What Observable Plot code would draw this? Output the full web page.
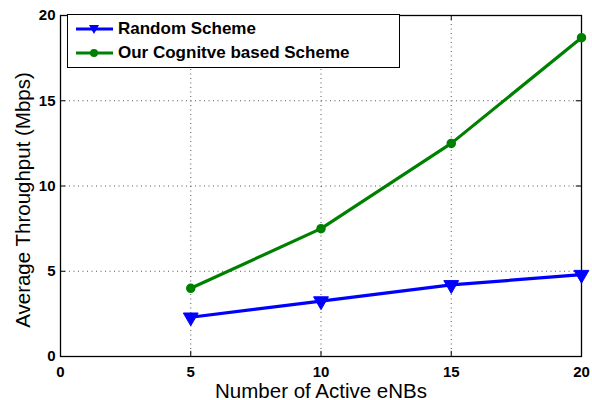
<!DOCTYPE html>
<html>
<head>
<meta charset="utf-8">
<script src="https://cdn.jsdelivr.net/npm/d3@7"></script>
<script src="https://cdn.jsdelivr.net/npm/@observablehq/plot@0.6"></script>
<style>
  body { margin: 0; background: #fff; }
  #wrap { position: relative; width: 592px; height: 400px; font-family: "Liberation Sans", Arial, sans-serif; }
  #legend { position: absolute; left: 67px; top: 14px; width: 333px; height: 54px; border: 1.3px solid #000; background: #fff; box-sizing: border-box; }
  .row { position: absolute; left: 0; height: 24px; display: flex; align-items: center; font-weight: bold; font-size: 17px; color: #000; white-space: nowrap; }
  .row svg { margin-left: 8px; margin-right: 5px; }
</style>
</head>
<body>
<div id="wrap"></div>
<script>
const nodes = [5, 10, 15, 20];
const randomScheme = [2.3, 3.25, 4.2, 4.8];
const cognitiveScheme = [4.0, 7.5, 12.5, 18.7];
const seriesNames = ["Random Scheme", "Our Cognitve based Scheme"];
const xTicks = [0, 5, 10, 15, 20];
const yTicks = [0, 5, 10, 15, 20];

const blue = "#0000ff", green = "#008000";
const rnd = nodes.map((x, i) => ({x, y: randomScheme[i]}));
const cog = nodes.map((x, i) => ({x, y: cognitiveScheme[i]}));

const chart = Plot.plot({
  width: 592, height: 400,
  marginLeft: 60, marginRight: 11, marginTop: 15, marginBottom: 44,
  style: {fontFamily: "'Liberation Sans', Arial, sans-serif", background: "#fff", color: "#000"},
  x: {domain: [0, 20], axis: null},
  y: {domain: [0, 20], axis: null},
  marks: [
    Plot.gridX(xTicks, {stroke: "#444", strokeOpacity: 0.9, strokeDasharray: "1,3.5"}),
    Plot.gridY(yTicks, {stroke: "#444", strokeOpacity: 0.9, strokeDasharray: "1,3.5"}),
    Plot.ruleX(xTicks, {x: d => d, y1: 0, y2: 0.3, stroke: "#000"}),
    Plot.ruleX(xTicks, {x: d => d, y1: 20, y2: 19.7, stroke: "#000"}),
    Plot.ruleY(yTicks, {y: d => d, x1: 0, x2: 0.2, stroke: "#000"}),
    Plot.ruleY(yTicks, {y: d => d, x1: 20, x2: 19.8, stroke: "#000"}),
    Plot.text(xTicks, {x: d => d, frameAnchor: "bottom", dy: 10, lineAnchor: "top", text: d => String(d), fontSize: 15, fontWeight: "bold", fill: "#000"}),
    Plot.text(yTicks, {y: d => d, frameAnchor: "left", dx: -5, textAnchor: "end", lineAnchor: "middle", text: d => String(d), fontSize: 15, fontWeight: "bold", fill: "#000"}),
    Plot.frame({stroke: "#000", strokeWidth: 1.3}),
    Plot.line(rnd, {x: "x", y: "y", stroke: blue, strokeWidth: 3.2}),
    Plot.dot(rnd, {x: "x", y: "y", symbol: "triangle", rotate: 180, r: 5.5, fill: blue, stroke: blue, strokeWidth: 1}),
    Plot.line(cog, {x: "x", y: "y", stroke: green, strokeWidth: 3.2}),
    Plot.dot(cog, {x: "x", y: "y", symbol: "circle", r: 4, fill: green, stroke: green, strokeWidth: 1.5}),
    Plot.text(["Number of Active eNBs"], {frameAnchor: "bottom", dy: 35, lineAnchor: "middle", text: d => d, fontSize: 20.5, fontWeight: "normal", fill: "#000"}),
    Plot.text(["Average Throughput (Mbps)"], {frameAnchor: "left", dx: -37, dy: 14, rotate: -90, textAnchor: "middle", lineAnchor: "middle", text: d => d, fontSize: 20.5, fontWeight: "normal", fill: "#000"})
  ]
});

const wrap = document.getElementById("wrap");
wrap.appendChild(chart);

const legend = document.createElement("div");
legend.id = "legend";
const specs = [
  {name: seriesNames[0], color: blue, marker: `<path d="M13,6 L23,6 L18,15 Z" fill="${blue}"/>`},
  {name: seriesNames[1], color: green, marker: `<circle cx="18" cy="10" r="4" fill="${green}"/>`}
];
specs.forEach((s, i) => {
  const row = document.createElement("div");
  row.className = "row";
  row.style.top = (i === 0 ? 2 : 26) + "px";
  row.innerHTML = `<svg width="37" height="20"><line x1="0" y1="10" x2="37" y2="10" stroke="${s.color}" stroke-width="3.2"/>${s.marker}</svg><span>${s.name}</span>`;
  legend.appendChild(row);
});
wrap.appendChild(legend);
</script>
</body>
</html>
